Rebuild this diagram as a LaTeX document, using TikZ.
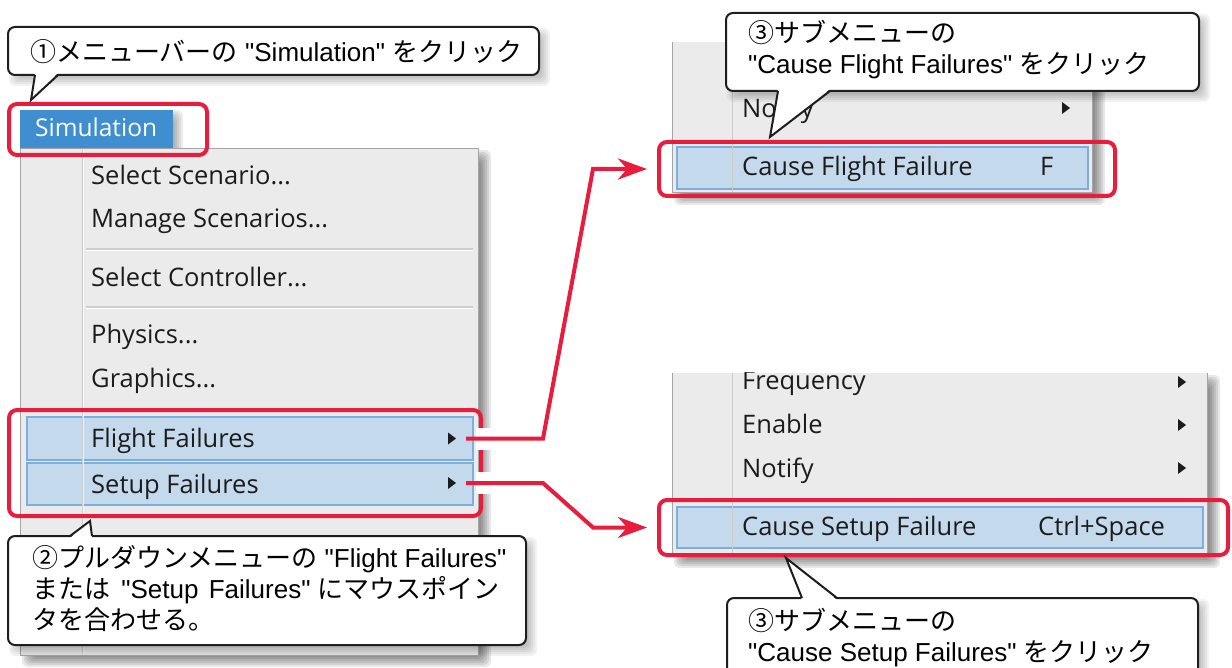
\documentclass[tikz,border=0pt]{standalone}
\usepackage{fontspec}
\setmainfont{Liberation Sans}
\newfontfamily\lat{Liberation Sans}
\newfontfamily\jp{Noto Sans CJK JP}
\newfontfamily\ui{Open Sans}
\usetikzlibrary{arrows.meta,calc}
\definecolor{alert}{RGB}{232,28,60}
\definecolor{menubg}{RGB}{235,235,235}
\definecolor{menuedge}{RGB}{165,165,165}
\definecolor{sepline}{RGB}{205,205,205}
\definecolor{hifill}{RGB}{196,217,236}
\definecolor{hiline}{RGB}{125,174,224}
\definecolor{tabblue}{RGB}{62,142,208}
\definecolor{menuink}{RGB}{28,28,28}
\definecolor{calloutline}{RGB}{30,30,30}
\newcommand\softshadow[6]{%
  \foreach \k in {0,...,5}{\fill[black,opacity=#6,rounded corners=6pt]
    ({#1+#5-5+2*\k},{#2+#5-5+2*\k}) rectangle ({#3+#5+5-2*\k},{#4+#5+5-2*\k});}}
\newcommand\subarrow[2]{\fill[menuink] ({#1},{#2-6}) -- ({#1+8},{#2}) -- ({#1},{#2+6}) -- cycle;}
\begin{document}
\begin{tikzpicture}[x=1pt,y=-1pt,
  menutext/.style={anchor=base west, inner sep=0pt, font=\ui\fontsize{25.5}{29}\selectfont, text=menuink},
  calltext/.style={anchor=base west, inner sep=0pt, font=\lat\fontsize{26}{31}\selectfont, text=black},
  redbox/.style={draw=alert, line width=4pt, rounded corners=8pt, inner sep=0pt, outer sep=0pt},
  callout/.style={draw=calloutline, fill=white, line width=2pt, rounded corners=7pt, inner sep=0pt, outer sep=0pt},
  hilite/.style={fill=hifill, draw=hiline, line width=1.3pt, inner sep=0pt, outer sep=0pt},
  tail/.style={draw=calloutline, line width=2pt, line join=miter},
  conn/.style={draw=alert, line width=4pt, -{Stealth[length=29pt,width=21pt,inset=9pt]}, shorten >=12pt},
  halo/.style={draw=white, line width=22pt}]
\useasboundingbox (0,0) rectangle (1232,668);
\clip (0,0) rectangle (1232,668);

% ---------- main menu ----------
\softshadow{20}{148}{479}{655}{7}{0.09}
\fill[menubg] (20,148) rectangle (479,655);
\draw[menuedge, line width=1pt] (20.5,148.5) rectangle (478.5,655);
\node[hilite, minimum width=446pt, minimum height=43pt] (ffrow) at (250,438.5) {};
\node[hilite, minimum width=446pt, minimum height=42pt] (sfrow) at (250,484) {};
\draw[sepline, line width=1pt] (82,149) -- (82,655);
\draw[white, line width=1pt, opacity=0.7] (83,149) -- (83,655);
\draw[sepline, line width=1.2pt] (86,249) -- (473,249);
\draw[white, line width=1pt] (86,250.5) -- (473,250.5);
\draw[sepline, line width=1.2pt] (86,307) -- (473,307);
\draw[white, line width=1pt] (86,308.5) -- (473,308.5);
\node[menutext] (m1) at (91,185) {Select Scenario...};
\node[menutext] (m2) at (91,228) {Manage Scenarios...};
\node[menutext] (m3) at (91,287) {Select Controller...};
\node[menutext] (m4) at (91,344) {Physics...};
\node[menutext] (m5) at (91,388) {Graphics...};
\node[menutext] (m6) at (91,447) {Flight Failures};
\node[menutext] (m7) at (91,493) {Setup Failures};
\subarrow{448}{438.5}
\subarrow{448}{483}

% ---------- Simulation tab ----------
\begin{scope}
  \clip (0,0) rectangle (1232,148);
  \softshadow{20}{110}{173}{148}{5}{0.07}
\end{scope}
\node[fill=tabblue, minimum width=153pt, minimum height=38pt, inner sep=0pt, outer sep=0pt] (tab) at (96.5,129) {};
\node[menutext, text=white, font=\ui\fontsize{24.5}{29}\selectfont] (tabtext) at (35,137) {Simulation};

% ---------- submenu 1 ----------
\softshadow{672}{42}{1093}{193}{7}{0.09}
\fill[menubg] (672,42) rectangle (1093,193);
\draw[menuedge, line width=1pt] (672.5,42) -- (672.5,192.5) -- (1092.5,192.5) -- (1092.5,42);
\node[hilite, minimum width=411pt, minimum height=42pt] (cfrow) at (882.5,168) {};
\draw[sepline, line width=1pt] (732,42) -- (732,192);
\node[menutext] (n1) at (742,118) {Notify};
\subarrow{1062}{108}
\node[menutext] (cf) at (742,176) {Cause Flight Failure};
\node[menutext] (cfkey) at (1040,176) {F};

% ---------- submenu 2 ----------
\softshadow{672}{373}{1208}{556}{7}{0.09}
\fill[menubg] (672,373) rectangle (1208,556);
\draw[menuedge, line width=1pt] (672.5,373) -- (672.5,555.5) -- (1207.5,555.5) -- (1207.5,373);
\node[hilite, minimum width=526pt, minimum height=41pt] (csrow) at (940,527.5) {};
\draw[sepline, line width=1pt] (732,373) -- (732,555);
\begin{scope}
  \clip (672,373) rectangle (1208,556);
  \node[menutext] (fq) at (742,389) {Frequency};
\end{scope}
\node[menutext] (en) at (742,433) {Enable};
\node[menutext] (n2) at (742,477) {Notify};
\subarrow{1178}{382}
\subarrow{1178}{425}
\subarrow{1178}{468}
\node[menutext] (cs) at (742,535) {Cause Setup Failure};
\node[menutext] (cskey) at (1038,535) {Ctrl+Space};

% ---------- red frames ----------
\node[redbox, minimum width=198pt, minimum height=51pt] (rb1) at (108,129.5) {};
\node[redbox, minimum width=472pt, minimum height=106pt] (rb2) at (245,463) {};
\node[redbox, minimum width=456pt, minimum height=54pt] (rb3) at (887,169) {};
\node[redbox, minimum width=569pt, minimum height=55pt] (rb4) at (943.5,527.5) {};

% ---------- connectors ----------
\coordinate (ffo) at (466,438.5);
\coordinate (sfo) at (466,483);
\draw[halo] (476,438.5) -- (491,438.5);
\draw[halo] (476,483) -- (491,483);
\draw[conn] (ffo) -- ++(77,0) -- ($(rb3.west)+(-66,0)$) -- (rb3.west);
\draw[conn] (sfo) -- ++(77,0) -- ($(rb4.west)+(-66,0)$) -- (rb4.west);

% ---------- callout 1 ----------
\softshadow{8}{27}{539}{75}{6}{0.05}
\node[callout, minimum width=531pt, minimum height=48pt] (co1) at (273.5,51) {};
\fill[white] (35,73) -- (31,100) -- (58,73) -- cycle;
\draw[tail] (35,75) -- (31,100) -- (58,75);
\node[calltext] (co1t) at (30,62) {{\jp ①メニューバーの} "Simulation" {\jp をクリック}};

% ---------- callout 2 ----------
\softshadow{8}{536}{526}{645}{6}{0.05}
\node[callout, minimum width=518pt, minimum height=109pt] (co2) at (267,590.5) {};
\fill[white] (70,538) -- (90,521) -- (92,538) -- cycle;
\draw[tail] (70,536) -- (90,521) -- (92,536);
\node[calltext] (co2a) at (32,567) {{\jp ②プルダウンメニューの} "Flight Failures"};
\node[calltext] (co2b) at (32,598) {{\jp または}\hspace{4pt} "Setup\hspace{3pt} Failures" {\jp にマウスポイン}};
\node[calltext] (co2c) at (32,629) {{\jp タを合わせる。}};

% ---------- callout 3 ----------
\softshadow{726}{13}{1199}{91}{6}{0.05}
\node[callout, minimum width=473pt, minimum height=78pt] (co3) at (962.5,52) {};
\fill[white] (778,89) -- (770,137) -- (830,89) -- cycle;
\draw[tail] (778,91) -- (770,137) -- (830,91);
\node[calltext] (co3a) at (748,43) {{\jp ③サブメニューの}};
\node[calltext] (co3b) at (748,74) {"Cause Flight Failures" {\jp をクリック}};

% ---------- callout 4 ----------
\softshadow{727}{598}{1198}{700}{6}{0.05}
\node[callout, minimum width=471pt, minimum height=102pt] (co4) at (962.5,649) {};
\fill[white] (802,600) -- (786,558) -- (837,600) -- cycle;
\draw[tail] (802,598) -- (786,558) -- (837,598);
\node[calltext] (co4a) at (748,630) {{\jp ③サブメニューの}};
\node[calltext] (co4b) at (748,661) {"Cause Setup Failures" {\jp をクリック}};
\end{tikzpicture}
\end{document}
